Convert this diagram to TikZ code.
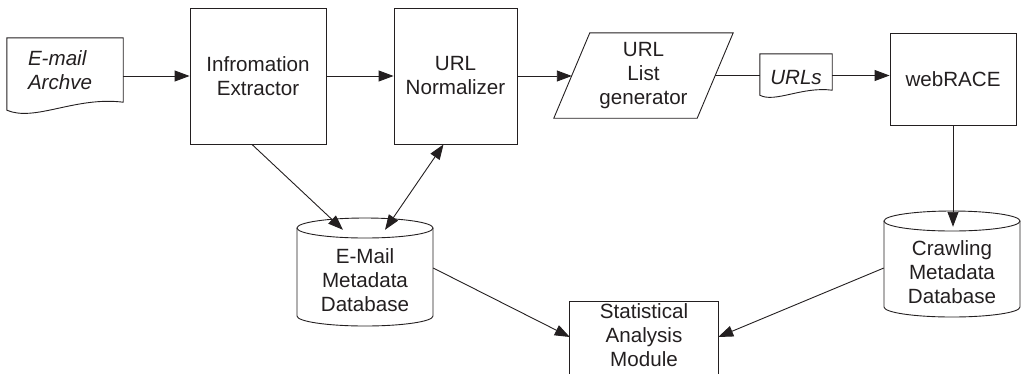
\documentclass[tikz,border=0pt]{standalone}
\usepackage{fontspec}
\setmainfont{Liberation Sans}
\usetikzlibrary{arrows.meta,shapes.geometric}
\definecolor{ink}{HTML}{231F20}
\newcommand\mydiagfont{\fontsize{20.6pt}{24pt}\selectfont}
\begin{document}
\begin{tikzpicture}[x=1pt,y=-1pt,
  font=\mydiagfont,
  box/.style={draw=ink, line width=0.9pt, align=center, inner sep=2pt, text=ink},
  plain/.style={align=center, inner sep=2pt, text=ink},
  ln/.style={draw=ink, line width=0.9pt},
  arr/.style={draw=ink, line width=0.9pt, -{Triangle[length=15pt,width=11pt]}},
  darr/.style={draw=ink, line width=0.9pt, {Triangle[length=15pt,width=11pt]}-{Triangle[length=15pt,width=11pt]}}]
\useasboundingbox (0,0) rectangle (1024,373);
\clip (0,0) rectangle (1024,373);

% nodes
\node[plain, minimum width=116pt, minimum height=64pt, text width=74pt, align=left, font={\mydiagfont\itshape}] (arch) at (65,70) {E-mail\\Archve};
\node[box, minimum width=136pt, minimum height=136pt] (ie) at (258,76) {Infromation\\Extractor};
\node[box, minimum width=123pt, minimum height=136pt] (norm) at (455.5,76) {URL\\Normalizer};
\node[plain, minimum width=143pt, minimum height=85pt] (gen) at (643.5,75.5) {URL\\List\\generator};
\node[plain, minimum width=72pt, minimum height=36pt, text height=25.6pt, text depth=0pt, font={\mydiagfont\itshape}] (urls) at (796,72) {URLs};
\node[box, minimum width=126pt, minimum height=92pt] (web) at (953,79) {webRACE};
\node[plain, minimum width=136pt, minimum height=100pt] (edb) at (365,280) {E-Mail\\Metadata\\Database};
\node[plain, minimum width=136pt, minimum height=90pt] (cdb) at (952,272) {Crawling\\Metadata\\Database};
\node[plain, minimum width=148pt, minimum height=66pt] (sam) at (644,335) {Statistical\\Analysis\\Module};

% shapes drawn around text nodes
\draw[ln] (arch.north west) -- (arch.north east) -- (arch.south east)
  .. controls +(-48,-6) and +(28,12) .. ([yshift=-8pt]arch.south west) -- cycle;
\draw[ln] (urls.north west) -- (urls.north east) -- (urls.south east)
  .. controls +(-30,-4) and +(15,8) .. ([yshift=-5pt]urls.south west) -- cycle;
\draw[ln] ([xshift=-18pt]gen.south west) -- ([xshift=18pt]gen.north west)
  -- ([xshift=18pt]gen.north east) -- ([xshift=-18pt]gen.south east) -- cycle;
\draw[ln] (365,228) ellipse [x radius=68pt, y radius=10pt];
\draw[ln] (297,228) -- (297,316) arc [start angle=180, end angle=360, x radius=68pt, y radius=10pt] -- (433,228);
\draw[ln] (952,221) ellipse [x radius=68pt, y radius=10pt];
\draw[ln] (884,221) -- (884,307) arc [start angle=180, end angle=360, x radius=68pt, y radius=10pt] -- (1020,221);
\draw[ln] ([yshift=-30pt]sam.south west) -- (sam.north west) -- (sam.north east) -- ([yshift=-30pt]sam.south east);

% connectors
\draw[arr] (arch.east |- ie.west) -- (ie.west);
\draw[arr] (ie.east) -- (norm.west);
\draw[arr] (norm.east) -- (norm.east -| gen.west);
\draw[ln] (gen.east) -- (gen.east -| urls.west);
\draw[arr] (urls.east |- gen.east) -- (web.west |- gen.east);
\draw[arr] (web.south) -- (web.south |- cdb.north);
\draw[arr] ([xshift=-6pt]ie.south) -- ([xshift=-22pt]edb.north);
\draw[darr] ([xshift=-12pt]norm.south) -- ([xshift=20pt]edb.north);
\draw[arr] ([yshift=12pt]edb.east) -- ([yshift=-2pt]sam.west);
\draw[arr] ([yshift=4pt]cdb.west) -- ([yshift=-2pt]sam.east);
\end{tikzpicture}
\end{document}
